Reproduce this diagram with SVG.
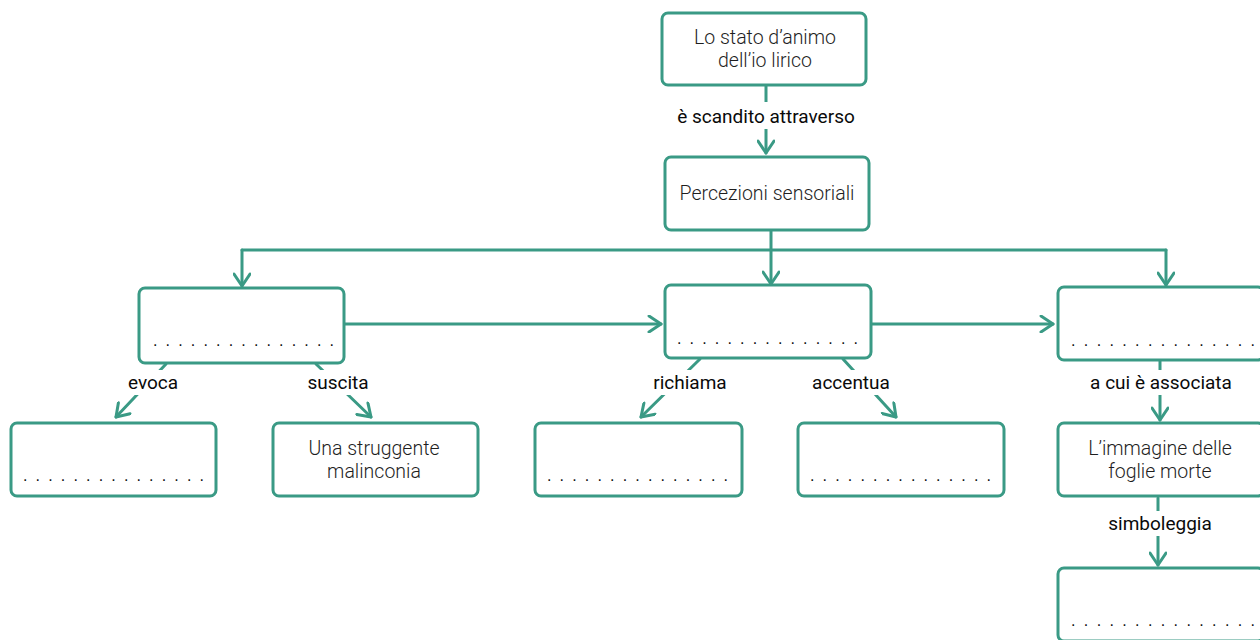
<svg xmlns="http://www.w3.org/2000/svg" width="1260" height="640" viewBox="0 0 1260 640">
<style>
.box{fill:#fff;stroke:#3a9a85;stroke-width:3;}
.ln{fill:none;stroke:#3a9a85;stroke-width:3;stroke-linecap:round;stroke-linejoin:round;}
.t{font-family:Roboto,"Liberation Sans",sans-serif;font-size:19.5px;font-weight:300;fill:#1e1e1e;text-anchor:middle;}
.lb{font-family:Roboto,"Liberation Sans",sans-serif;font-size:19px;font-weight:400;fill:#0a0a0a;text-anchor:middle;}
.dots{font-family:"Liberation Sans",sans-serif;font-size:16px;fill:#111;}
.bg{fill:#fff;}
</style>
<defs>
<marker id="ah" viewBox="-14 -9 16 18" markerWidth="16" markerHeight="18" refX="0" refY="0" orient="auto" markerUnits="userSpaceOnUse">
<path d="M-12,-8 L0,0 L-12,8" fill="none" stroke="#3a9a85" stroke-width="3" stroke-linecap="round" stroke-linejoin="round"/>
</marker>
</defs>
<g id="connectors">
<path class="ln" d="M766,86 V153" marker-end="url(#ah)"/>
<path class="ln" d="M771,231 V250"/>
<path class="ln" d="M242,250 H1166"/>
<path class="ln" d="M771,250 V284" marker-end="url(#ah)"/>
<path class="ln" d="M242,250 V286" marker-end="url(#ah)"/>
<path class="ln" d="M1166,250 V285" marker-end="url(#ah)"/>
<path class="ln" d="M345,324 H661" marker-end="url(#ah)"/>
<path class="ln" d="M872,324 H1053" marker-end="url(#ah)"/>
<path class="ln" d="M166,364 L116,417" marker-end="url(#ah)"/>
<path class="ln" d="M316,364 L371,417" marker-end="url(#ah)"/>
<path class="ln" d="M700,359 L641,417" marker-end="url(#ah)"/>
<path class="ln" d="M843,359 L896,417" marker-end="url(#ah)"/>
<path class="ln" d="M1160,361 V420" marker-end="url(#ah)"/>
<path class="ln" d="M1158,498 V565" marker-end="url(#ah)"/>
<rect class="bg" x="670" y="102" width="192" height="27"/>
<text class="lb" x="766" y="123">è scandito attraverso</text>
<rect class="bg" x="124" y="370" width="58" height="25"/>
<text class="lb" x="153" y="389">evoca</text>
<rect class="bg" x="303" y="370" width="70" height="25"/>
<text class="lb" x="338" y="389">suscita</text>
<rect class="bg" x="650" y="370" width="80" height="25"/>
<text class="lb" x="690" y="389">richiama</text>
<rect class="bg" x="808" y="370" width="86" height="25"/>
<text class="lb" x="851" y="389">accentua</text>
<rect class="bg" x="1086" y="370" width="150" height="25"/>
<text class="lb" x="1161" y="389">a cui è associata</text>
<rect class="bg" x="1100" y="511" width="120" height="25"/>
<text class="lb" x="1160" y="530">simboleggia</text>
</g>
<g id="n-stato">
<rect class="box" x="662" y="13" width="204" height="72" rx="6"/>
<text class="t" x="765" y="44">Lo stato d’animo</text>
<text class="t" x="765" y="67">dell’io lirico</text>
</g>
<g id="n-percezioni">
<rect class="box" x="665" y="157" width="204" height="73" rx="6"/>
<text class="t" x="767" y="200">Percezioni sensoriali</text>
</g>
<g id="n-b1">
<rect class="box" x="139" y="288" width="205" height="75" rx="6"/>
<text class="dots" x="153" y="346" textLength="181" lengthAdjust="spacing">. . . . . . . . . . . . . . .</text>
</g>
<g id="n-b2">
<rect class="box" x="665" y="285" width="206" height="73" rx="6"/>
<text class="dots" x="677" y="344" textLength="181" lengthAdjust="spacing">. . . . . . . . . . . . . . .</text>
</g>
<g id="n-b3">
<rect class="box" x="1058" y="287" width="206" height="73" rx="6"/>
<text class="dots" x="1071" y="346" textLength="184" lengthAdjust="spacing">. . . . . . . . . . . . . . .</text>
</g>
<g id="n-c1">
<rect class="box" x="11" y="423" width="205" height="73" rx="6"/>
<text class="dots" x="23" y="481" textLength="181" lengthAdjust="spacing">. . . . . . . . . . . . . . .</text>
</g>
<g id="n-c2">
<rect class="box" x="273" y="423" width="205" height="73" rx="6"/>
<text class="t" x="374" y="455">Una struggente</text>
<text class="t" x="374" y="478">malinconia</text>
</g>
<g id="n-c3">
<rect class="box" x="535" y="423" width="207" height="73" rx="6"/>
<text class="dots" x="547" y="481" textLength="181" lengthAdjust="spacing">. . . . . . . . . . . . . . .</text>
</g>
<g id="n-c4">
<rect class="box" x="798" y="423" width="206" height="73" rx="6"/>
<text class="dots" x="810" y="481" textLength="181" lengthAdjust="spacing">. . . . . . . . . . . . . . .</text>
</g>
<g id="n-c5">
<rect class="box" x="1058" y="423" width="206" height="73" rx="6"/>
<text class="t" x="1160" y="455">L’immagine delle</text>
<text class="t" x="1160" y="478">foglie morte</text>
</g>
<g id="n-d5">
<rect class="box" x="1058" y="568" width="206" height="73" rx="6"/>
<text class="dots" x="1071" y="626" textLength="184" lengthAdjust="spacing">. . . . . . . . . . . . . . .</text>
</g>
</svg>
